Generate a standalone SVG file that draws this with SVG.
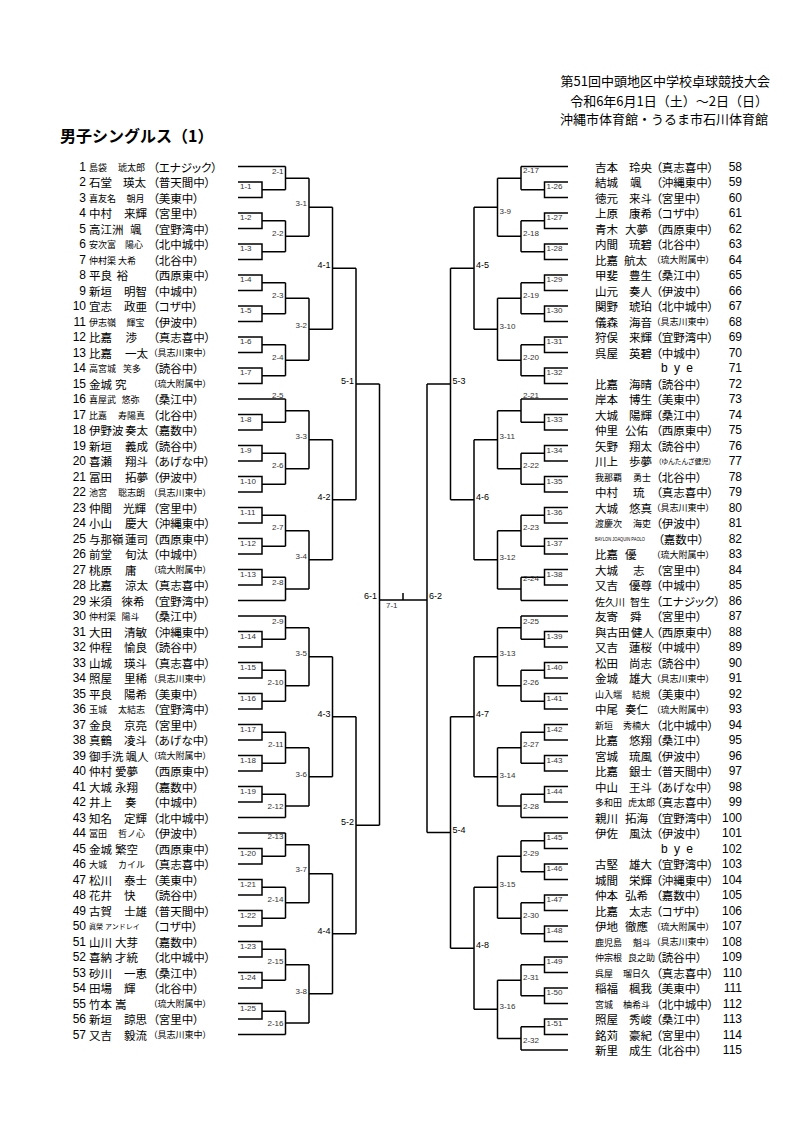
<svg xmlns="http://www.w3.org/2000/svg" width="800" height="1132" viewBox="0 0 800 1132">
<style>
text{dominant-baseline:central}
.ln{fill:none;stroke:#000;stroke-width:1.5}
.no{font-family:"Liberation Sans",sans-serif;font-size:12px;text-anchor:end}
.nm{font-family:"Noto Sans CJK JP",sans-serif;font-size:11.5px}
.ns{font-family:"Noto Sans CJK JP",sans-serif;font-size:9px}
.nt{font-family:"Noto Sans CJK JP",sans-serif;font-size:7px}
.sc{font-family:"Noto Sans CJK JP",sans-serif;font-size:11.5px;font-feature-settings:"palt"}
.ss{font-family:"Noto Sans CJK JP",sans-serif;font-size:9px;font-feature-settings:"palt"}
.st{font-family:"Noto Sans CJK JP",sans-serif;font-size:7px;font-feature-settings:"palt"}
.lb{font-family:"Liberation Sans",sans-serif;font-size:8px;fill:#333}
.lk{font-family:"Liberation Sans",sans-serif;font-size:9px;fill:#000}
.e{text-anchor:end}
.hd{font-family:"Noto Sans CJK JP",sans-serif;font-size:13px;text-anchor:end}
.tt{font-family:"Noto Sans CJK JP",sans-serif;font-size:16px;font-weight:bold}
.bye{font-family:"Liberation Sans",sans-serif;font-size:12px;letter-spacing:1.5px}
</style>
<rect width="800" height="1132" fill="#fff"/>
<g id="header">
<text class="hd" x="770" y="80">第51回中頭地区中学校卓球競技大会</text>
<text class="hd" x="768" y="100">令和6年6月1日（土）～2日（日）</text>
<text class="hd" x="768" y="118">沖縄市体育館・うるま市石川体育館</text>
<text class="tt" x="60" y="135">男子シングルス（1）</text>
</g>
<g id="connectors" class="ln">
<path d="M238,166.5H285.5M238,399H285.5M238,600.5H285.5M238,616H285.5M238,817.5H285.5M238,833H285.5M238,1034.5H285.5"/>
<path d="M238,182H262V197.5H238M262,189.75H285.5M238,213H262V228.5H238M262,220.75H285.5M238,244H262V259.5H238M262,251.75H285.5M238,275H262V290.5H238M262,282.75H285.5M238,306H262V321.5H238M262,313.75H285.5M238,337H262V352.5H238M262,344.75H285.5M238,368H262V383.5H238M262,375.75H285.5M238,414.5H262V430H238M262,422.25H285.5M238,445.5H262V461H238M262,453.25H285.5M238,476.5H262V492H238M262,484.25H285.5M238,507.5H262V523H238M262,515.25H285.5M238,538.5H262V554H238M262,546.25H285.5M238,569.5H262V585H238M262,577.25H285.5M238,631.5H262V647H238M262,639.25H285.5M238,662.5H262V678H238M262,670.25H285.5M238,693.5H262V709H238M262,701.25H285.5M238,724.5H262V740H238M262,732.25H285.5M238,755.5H262V771H238M262,763.25H285.5M238,786.5H262V802H238M262,794.25H285.5M238,848.5H262V864H238M262,856.25H285.5M238,879.5H262V895H238M262,887.25H285.5M238,910.5H262V926H238M262,918.25H285.5M238,941.5H262V957H238M262,949.25H285.5M238,972.5H262V988H238M262,980.25H285.5M238,1003.5H262V1019H238M262,1011.25H285.5"/>
<path d="M285.5,166.5V189.75M285.5,178.125H309M285.5,220.75V251.75M285.5,236.25H309M285.5,282.75V313.75M285.5,298.25H309M285.5,344.75V375.75M285.5,360.25H309M285.5,399V422.25M285.5,410.625H309M285.5,453.25V484.25M285.5,468.75H309M285.5,515.25V546.25M285.5,530.75H309M285.5,577.25V600.5M285.5,588.875H309M285.5,616V639.25M285.5,627.625H309M285.5,670.25V701.25M285.5,685.75H309M285.5,732.25V763.25M285.5,747.75H309M285.5,794.25V817.5M285.5,805.875H309M285.5,833V856.25M285.5,844.625H309M285.5,887.25V918.25M285.5,902.75H309M285.5,949.25V980.25M285.5,964.75H309M285.5,1011.25V1034.5M285.5,1022.875H309"/>
<path d="M309,178.125V236.25M309,207.19H332.5M309,298.25V360.25M309,329.25H332.5M309,410.625V468.75M309,439.69H332.5M309,530.75V588.875M309,559.81H332.5M309,627.625V685.75M309,656.69H332.5M309,747.75V805.875M309,776.81H332.5M309,844.625V902.75M309,873.69H332.5M309,964.75V1022.875M309,993.81H332.5"/>
<path d="M332.5,207.19V329.25M332.5,268.22H356M332.5,439.69V559.81M332.5,499.75H356M332.5,656.69V776.81M332.5,716.75H356M332.5,873.69V993.81M332.5,933.75H356"/>
<path d="M356,268.22V499.75M356,383.98H379.5M356,716.75V933.75M356,825.25H379.5"/>
<path d="M379.5,383.98V825.25M379.5,600H427M403,593V600M427,383.98V832.52"/>
<path d="M568,166.5H521M568,399H521M568,600.5H521M568,616H521M568,817.5H521M568,1050H521"/>
<path d="M568,182H544.5V197.5H568M544.5,189.75H521M568,213H544.5V228.5H568M544.5,220.75H521M568,244H544.5V259.5H568M544.5,251.75H521M568,275H544.5V290.5H568M544.5,282.75H521M568,306H544.5V321.5H568M544.5,313.75H521M568,337H544.5V352.5H568M544.5,344.75H521M568,368H544.5V383.5H568M544.5,375.75H521M568,414.5H544.5V430H568M544.5,422.25H521M568,445.5H544.5V461H568M544.5,453.25H521M568,476.5H544.5V492H568M544.5,484.25H521M568,507.5H544.5V523H568M544.5,515.25H521M568,538.5H544.5V554H568M544.5,546.25H521M568,569.5H544.5V585H568M544.5,577.25H521M568,631.5H544.5V647H568M544.5,639.25H521M568,662.5H544.5V678H568M544.5,670.25H521M568,693.5H544.5V709H568M544.5,701.25H521M568,724.5H544.5V740H568M544.5,732.25H521M568,755.5H544.5V771H568M544.5,763.25H521M568,786.5H544.5V802H568M544.5,794.25H521M568,833H544.5V848.5H568M544.5,840.75H521M568,864H544.5V879.5H568M544.5,871.75H521M568,895H544.5V910.5H568M544.5,902.75H521M568,926H544.5V941.5H568M544.5,933.75H521M568,957H544.5V972.5H568M544.5,964.75H521M568,988H544.5V1003.5H568M544.5,995.75H521M568,1019H544.5V1034.5H568M544.5,1026.75H521"/>
<path d="M521,166.5V189.75M521,178.125H497.5M521,220.75V251.75M521,236.25H497.5M521,282.75V313.75M521,298.25H497.5M521,344.75V375.75M521,360.25H497.5M521,399V422.25M521,410.625H497.5M521,453.25V484.25M521,468.75H497.5M521,515.25V546.25M521,530.75H497.5M521,577.25V600.5M521,588.875H497.5M521,616V639.25M521,627.625H497.5M521,670.25V701.25M521,685.75H497.5M521,732.25V763.25M521,747.75H497.5M521,794.25V817.5M521,805.875H497.5M521,840.75V871.75M521,856.25H497.5M521,902.75V933.75M521,918.25H497.5M521,964.75V995.75M521,980.25H497.5M521,1026.75V1050M521,1038.375H497.5"/>
<path d="M497.5,178.125V236.25M497.5,207.19H474M497.5,298.25V360.25M497.5,329.25H474M497.5,410.625V468.75M497.5,439.69H474M497.5,530.75V588.875M497.5,559.81H474M497.5,627.625V685.75M497.5,656.69H474M497.5,747.75V805.875M497.5,776.81H474M497.5,856.25V918.25M497.5,887.25H474M497.5,980.25V1038.375M497.5,1009.31H474"/>
<path d="M474,207.19V329.25M474,268.22H450.5M474,439.69V559.81M474,499.75H450.5M474,656.69V776.81M474,716.75H450.5M474,887.25V1009.31M474,948.28H450.5"/>
<path d="M450.5,268.22V499.75M450.5,383.98H427M450.5,716.75V948.28M450.5,832.52H427"/>
</g>
<g id="labels">
<g class="lb">
<text x="240" y="186.5">1-1</text><text x="240" y="217.5">1-2</text><text x="240" y="248.5">1-3</text><text x="240" y="279.5">1-4</text><text x="240" y="310.5">1-5</text><text x="240" y="341.5">1-6</text><text x="240" y="372.5">1-7</text><text x="240" y="419">1-8</text><text x="240" y="450">1-9</text><text x="240" y="481">1-10</text><text x="240" y="512">1-11</text><text x="240" y="543">1-12</text><text x="240" y="574">1-13</text><text x="240" y="636">1-14</text><text x="240" y="667">1-15</text><text x="240" y="698">1-16</text><text x="240" y="729">1-17</text><text x="240" y="760">1-18</text><text x="240" y="791">1-19</text><text x="240" y="853">1-20</text><text x="240" y="884">1-21</text><text x="240" y="915">1-22</text><text x="240" y="946">1-23</text><text x="240" y="977">1-24</text><text x="240" y="1008">1-25</text>
<text class="e" x="283.5" y="171">2-1</text><text class="e" x="283.5" y="233.25">2-2</text><text class="e" x="283.5" y="295.25">2-3</text><text class="e" x="283.5" y="357.25">2-4</text><text class="e" x="283.5" y="395">2-5</text><text class="e" x="283.5" y="465.75">2-6</text><text class="e" x="283.5" y="527.75">2-7</text><text class="e" x="283.5" y="582">2-8</text><text class="e" x="283.5" y="621">2-9</text><text class="e" x="283.5" y="682.75">2-10</text><text class="e" x="283.5" y="744.75">2-11</text><text class="e" x="283.5" y="806.5">2-12</text><text class="e" x="283.5" y="836.5">2-13</text><text class="e" x="283.5" y="899.75">2-14</text><text class="e" x="283.5" y="961.75">2-15</text><text class="e" x="283.5" y="1023">2-16</text>
<text class="e" x="307" y="203.7">3-1</text><text class="e" x="307" y="325.75">3-2</text><text class="e" x="307" y="436.2">3-3</text><text class="e" x="307" y="556.8">3-4</text><text class="e" x="307" y="653.2">3-5</text><text class="e" x="307" y="774.5">3-6</text><text class="e" x="307" y="869.5">3-7</text><text class="e" x="307" y="991.5">3-8</text>
<text x="386" y="605">7-1</text>
<text x="546.5" y="186.5">1-26</text><text x="546.5" y="217.5">1-27</text><text x="546.5" y="248.5">1-28</text><text x="546.5" y="279.5">1-29</text><text x="546.5" y="310.5">1-30</text><text x="546.5" y="341.5">1-31</text><text x="546.5" y="372.5">1-32</text><text x="546.5" y="419">1-33</text><text x="546.5" y="450">1-34</text><text x="546.5" y="481">1-35</text><text x="546.5" y="512">1-36</text><text x="546.5" y="543">1-37</text><text x="546.5" y="574">1-38</text><text x="546.5" y="636">1-39</text><text x="546.5" y="667">1-40</text><text x="546.5" y="698">1-41</text><text x="546.5" y="729">1-42</text><text x="546.5" y="760">1-43</text><text x="546.5" y="791">1-44</text><text x="546.5" y="837.5">1-45</text><text x="546.5" y="868.5">1-46</text><text x="546.5" y="899.5">1-47</text><text x="546.5" y="930.5">1-48</text><text x="546.5" y="961.5">1-49</text><text x="546.5" y="992.5">1-50</text><text x="546.5" y="1023.5">1-51</text>
<text x="523" y="170">2-17</text><text x="523" y="233.25">2-18</text><text x="523" y="295.25">2-19</text><text x="523" y="357.25">2-20</text><text x="523" y="395">2-21</text><text x="523" y="465.75">2-22</text><text x="523" y="527.75">2-23</text><text x="523" y="578.5">2-24</text><text x="523" y="621">2-25</text><text x="523" y="682.75">2-26</text><text x="523" y="744.75">2-27</text><text x="523" y="806.5">2-28</text><text x="523" y="853.25">2-29</text><text x="523" y="915.25">2-30</text><text x="523" y="977.25">2-31</text><text x="523" y="1040">2-32</text>
<text x="499.5" y="211">3-9</text><text x="499.5" y="326.25">3-10</text><text x="499.5" y="436.7">3-11</text><text x="499.5" y="557">3-12</text><text x="499.5" y="653.7">3-13</text><text x="499.5" y="775">3-14</text><text x="499.5" y="884.5">3-15</text><text x="499.5" y="1006.5">3-16</text>
</g>
<g class="lk">
<text class="e" x="330.5" y="265">4-1</text><text class="e" x="330.5" y="497">4-2</text><text class="e" x="330.5" y="714">4-3</text><text class="e" x="330.5" y="931">4-4</text>
<text class="e" x="354" y="381">5-1</text><text class="e" x="354" y="822">5-2</text>
<text class="e" x="377" y="596">6-1</text><text x="429" y="596">6-2</text>
<text x="476" y="265">4-5</text><text x="476" y="497">4-6</text><text x="476" y="714">4-7</text><text x="476" y="945">4-8</text>
<text x="452.5" y="381">5-3</text><text x="452.5" y="830">5-4</text>
</g>
</g>
<g id="players-left">
<g id="p1"><text class="no" x="86" y="166.5">1</text><text class="ns" y="166.5"><tspan x="89">島袋</tspan> <tspan x="118">琥太郎</tspan></text><text class="sc" x="153" y="166.5">（エナジック）</text></g>
<g id="p2"><text class="no" x="86" y="182">2</text><text class="nm" y="182"><tspan x="89">石堂</tspan> <tspan x="123">瑛太</tspan></text><text class="sc" x="153" y="182">（普天間中）</text></g>
<g id="p3"><text class="no" x="86" y="197.5">3</text><text class="ns" y="197.5"><tspan x="89">喜友名</tspan> <tspan x="126.5">朝月</tspan></text><text class="sc" x="153" y="197.5">（美東中）</text></g>
<g id="p4"><text class="no" x="86" y="213">4</text><text class="nm" y="213"><tspan x="89">中村</tspan> <tspan x="124">来輝</tspan></text><text class="sc" x="153" y="213">（宮里中）</text></g>
<g id="p5"><text class="no" x="86" y="228.5">5</text><text class="nm" y="228.5"><tspan x="89">高江洲</tspan> <tspan x="130">颯</tspan></text><text class="sc" x="153" y="228.5">（宜野湾中）</text></g>
<g id="p6"><text class="no" x="86" y="244">6</text><text class="ns" y="244"><tspan x="89">安次富</tspan> <tspan x="125">陽心</tspan></text><text class="sc" x="153" y="244">（北中城中）</text></g>
<g id="p7"><text class="no" x="86" y="259.5">7</text><text class="ns" y="259.5"><tspan x="89">仲村渠</tspan> <tspan x="118">大希</tspan></text><text class="sc" x="153" y="259.5">（北谷中）</text></g>
<g id="p8"><text class="no" x="86" y="275">8</text><text class="nm" y="275"><tspan x="89">平良</tspan> <tspan x="116.5">裕</tspan></text><text class="sc" x="153" y="275">（西原東中）</text></g>
<g id="p9"><text class="no" x="86" y="290.5">9</text><text class="nm" y="290.5"><tspan x="89">新垣</tspan> <tspan x="124">明智</tspan></text><text class="sc" x="153" y="290.5">（中城中）</text></g>
<g id="p10"><text class="no" x="86" y="306">10</text><text class="nm" y="306"><tspan x="89">宜志</tspan> <tspan x="124">政亜</tspan></text><text class="sc" x="153" y="306">（コザ中）</text></g>
<g id="p11"><text class="no" x="86" y="321.5">11</text><text class="ns" y="321.5"><tspan x="89">伊志嶺</tspan> <tspan x="126.5">輝宝</tspan></text><text class="sc" x="153" y="321.5">（伊波中）</text></g>
<g id="p12"><text class="no" x="86" y="337">12</text><text class="nm" y="337"><tspan x="89">比嘉</tspan> <tspan x="125.5">渉</tspan></text><text class="sc" x="153" y="337">（真志喜中）</text></g>
<g id="p13"><text class="no" x="86" y="352.5">13</text><text class="nm" y="352.5"><tspan x="89">比嘉</tspan> <tspan x="125">一太</tspan></text><text class="ss" x="153" y="352.5">（具志川東中）</text></g>
<g id="p14"><text class="no" x="86" y="368">14</text><text class="ns" y="368"><tspan x="89">高宮城</tspan> <tspan x="123">笑多</tspan></text><text class="sc" x="153" y="368">（読谷中）</text></g>
<g id="p15"><text class="no" x="86" y="383.5">15</text><text class="nm" y="383.5"><tspan x="89">金城</tspan> <tspan x="115">究</tspan></text><text class="ss" x="153" y="383.5">（琉大附属中）</text></g>
<g id="p16"><text class="no" x="86" y="399">16</text><text class="ns" y="399"><tspan x="89">喜屋武</tspan> <tspan x="121.5">悠弥</tspan></text><text class="sc" x="153" y="399">（桑江中）</text></g>
<g id="p17"><text class="no" x="86" y="414.5">17</text><text class="ns" y="414.5"><tspan x="89">比嘉</tspan> <tspan x="118">寿陽真</tspan></text><text class="sc" x="153" y="414.5">（北谷中）</text></g>
<g id="p18"><text class="no" x="86" y="430">18</text><text class="nm" y="430"><tspan x="89">伊野波</tspan> <tspan x="125">奏太</tspan></text><text class="sc" x="153" y="430">（嘉数中）</text></g>
<g id="p19"><text class="no" x="86" y="445.5">19</text><text class="nm" y="445.5"><tspan x="89">新垣</tspan> <tspan x="125">義成</tspan></text><text class="sc" x="153" y="445.5">（読谷中）</text></g>
<g id="p20"><text class="no" x="86" y="461">20</text><text class="nm" y="461"><tspan x="89">喜瀬</tspan> <tspan x="125">翔斗</tspan></text><text class="sc" x="153" y="461">（あげな中）</text></g>
<g id="p21"><text class="no" x="86" y="476.5">21</text><text class="nm" y="476.5"><tspan x="89">冨田</tspan> <tspan x="125">拓夢</tspan></text><text class="sc" x="153" y="476.5">（伊波中）</text></g>
<g id="p22"><text class="no" x="86" y="492">22</text><text class="ns" y="492"><tspan x="89">池宮</tspan> <tspan x="118">聡志朗</tspan></text><text class="ss" x="153" y="492">（具志川東中）</text></g>
<g id="p23"><text class="no" x="86" y="507.5">23</text><text class="nm" y="507.5"><tspan x="89">仲間</tspan> <tspan x="123">光輝</tspan></text><text class="sc" x="153" y="507.5">（宮里中）</text></g>
<g id="p24"><text class="no" x="86" y="523">24</text><text class="nm" y="523"><tspan x="89">小山</tspan> <tspan x="125">慶大</tspan></text><text class="sc" x="153" y="523">（沖縄東中）</text></g>
<g id="p25"><text class="no" x="86" y="538.5">25</text><text class="nm" y="538.5"><tspan x="89">与那嶺</tspan> <tspan x="125">蓮司</tspan></text><text class="sc" x="153" y="538.5">（西原東中）</text></g>
<g id="p26"><text class="no" x="86" y="554">26</text><text class="nm" y="554"><tspan x="89">前堂</tspan> <tspan x="125">旬汰</tspan></text><text class="sc" x="153" y="554">（中城中）</text></g>
<g id="p27"><text class="no" x="86" y="569.5">27</text><text class="nm" y="569.5"><tspan x="89">桃原</tspan> <tspan x="125">庸</tspan></text><text class="ss" x="153" y="569.5">（琉大附属中）</text></g>
<g id="p28"><text class="no" x="86" y="585">28</text><text class="nm" y="585"><tspan x="89">比嘉</tspan> <tspan x="125">涼太</tspan></text><text class="sc" x="153" y="585">（真志喜中）</text></g>
<g id="p29"><text class="no" x="86" y="600.5">29</text><text class="nm" y="600.5"><tspan x="89">米須</tspan> <tspan x="121.5">徠希</tspan></text><text class="sc" x="153" y="600.5">（宜野湾中）</text></g>
<g id="p30"><text class="no" x="86" y="616">30</text><text class="ns" y="616"><tspan x="89">仲村渠</tspan> <tspan x="121.5">陽斗</tspan></text><text class="sc" x="153" y="616">（桑江中）</text></g>
<g id="p31"><text class="no" x="86" y="631.5">31</text><text class="nm" y="631.5"><tspan x="89">大田</tspan> <tspan x="124">清敏</tspan></text><text class="sc" x="153" y="631.5">（沖縄東中）</text></g>
<g id="p32"><text class="no" x="86" y="647">32</text><text class="nm" y="647"><tspan x="89">仲程</tspan> <tspan x="124">愉良</tspan></text><text class="sc" x="153" y="647">（読谷中）</text></g>
<g id="p33"><text class="no" x="86" y="662.5">33</text><text class="nm" y="662.5"><tspan x="89">山城</tspan> <tspan x="124">瑛斗</tspan></text><text class="sc" x="153" y="662.5">（真志喜中）</text></g>
<g id="p34"><text class="no" x="86" y="678">34</text><text class="nm" y="678"><tspan x="89">照屋</tspan> <tspan x="124">里稀</tspan></text><text class="ss" x="153" y="678">（具志川東中）</text></g>
<g id="p35"><text class="no" x="86" y="693.5">35</text><text class="nm" y="693.5"><tspan x="89">平良</tspan> <tspan x="124">陽希</tspan></text><text class="sc" x="153" y="693.5">（美東中）</text></g>
<g id="p36"><text class="no" x="86" y="709">36</text><text class="ns" y="709"><tspan x="89">玉城</tspan> <tspan x="118">太結志</tspan></text><text class="sc" x="153" y="709">（宜野湾中）</text></g>
<g id="p37"><text class="no" x="86" y="724.5">37</text><text class="nm" y="724.5"><tspan x="89">金良</tspan> <tspan x="124">京亮</tspan></text><text class="sc" x="153" y="724.5">（宮里中）</text></g>
<g id="p38"><text class="no" x="86" y="740">38</text><text class="nm" y="740"><tspan x="89">真鶴</tspan> <tspan x="124">凌斗</tspan></text><text class="sc" x="153" y="740">（あげな中）</text></g>
<g id="p39"><text class="no" x="86" y="755.5">39</text><text class="nm" y="755.5"><tspan x="89">御手洗</tspan> <tspan x="125.5">颯人</tspan></text><text class="ss" x="153" y="755.5">（琉大附属中）</text></g>
<g id="p40"><text class="no" x="86" y="771">40</text><text class="nm" y="771"><tspan x="89">仲村</tspan> <tspan x="115">愛夢</tspan></text><text class="sc" x="153" y="771">（西原東中）</text></g>
<g id="p41"><text class="no" x="86" y="786.5">41</text><text class="nm" y="786.5"><tspan x="89">大城</tspan> <tspan x="115">永翔</tspan></text><text class="sc" x="153" y="786.5">（嘉数中）</text></g>
<g id="p42"><text class="no" x="86" y="802">42</text><text class="nm" y="802"><tspan x="89">井上</tspan> <tspan x="125">奏</tspan></text><text class="sc" x="153" y="802">（中城中）</text></g>
<g id="p43"><text class="no" x="86" y="817.5">43</text><text class="nm" y="817.5"><tspan x="89">知名</tspan> <tspan x="124">定輝</tspan></text><text class="sc" x="153" y="817.5">（北中城中）</text></g>
<g id="p44"><text class="no" x="86" y="833">44</text><text class="ns" y="833"><tspan x="89">冨田</tspan> <tspan x="118">哲ノ心</tspan></text><text class="sc" x="153" y="833">（伊波中）</text></g>
<g id="p45"><text class="no" x="86" y="848.5">45</text><text class="nm" y="848.5"><tspan x="89">金城</tspan> <tspan x="115">繁空</tspan></text><text class="sc" x="153" y="848.5">（西原東中）</text></g>
<g id="p46"><text class="no" x="86" y="864">46</text><text class="ns" y="864"><tspan x="89">大城</tspan> <tspan x="118">カイル</tspan></text><text class="sc" x="153" y="864">（真志喜中）</text></g>
<g id="p47"><text class="no" x="86" y="879.5">47</text><text class="nm" y="879.5"><tspan x="89">松川</tspan> <tspan x="124">泰士</tspan></text><text class="sc" x="153" y="879.5">（美東中）</text></g>
<g id="p48"><text class="no" x="86" y="895">48</text><text class="nm" y="895"><tspan x="89">花井</tspan> <tspan x="124">快</tspan></text><text class="sc" x="153" y="895">（読谷中）</text></g>
<g id="p49"><text class="no" x="86" y="910.5">49</text><text class="nm" y="910.5"><tspan x="89">古賀</tspan> <tspan x="124">士雄</tspan></text><text class="sc" x="153" y="910.5">（普天間中）</text></g>
<g id="p50"><text class="no" x="86" y="926">50</text><text class="nt" y="926"><tspan x="89">眞榮</tspan> <tspan x="105">アンドレイ</tspan></text><text class="sc" x="153" y="926">（コザ中）</text></g>
<g id="p51"><text class="no" x="86" y="941.5">51</text><text class="nm" y="941.5"><tspan x="89">山川</tspan> <tspan x="115">大芽</tspan></text><text class="sc" x="153" y="941.5">（嘉数中）</text></g>
<g id="p52"><text class="no" x="86" y="957">52</text><text class="nm" y="957"><tspan x="89">喜納</tspan> <tspan x="115">才統</tspan></text><text class="sc" x="153" y="957">（北中城中）</text></g>
<g id="p53"><text class="no" x="86" y="972.5">53</text><text class="nm" y="972.5"><tspan x="89">砂川</tspan> <tspan x="124">一恵</tspan></text><text class="sc" x="153" y="972.5">（桑江中）</text></g>
<g id="p54"><text class="no" x="86" y="988">54</text><text class="nm" y="988"><tspan x="89">田場</tspan> <tspan x="124">輝</tspan></text><text class="sc" x="153" y="988">（北谷中）</text></g>
<g id="p55"><text class="no" x="86" y="1003.5">55</text><text class="nm" y="1003.5"><tspan x="89">竹本</tspan> <tspan x="115">嵩</tspan></text><text class="ss" x="153" y="1003.5">（琉大附属中）</text></g>
<g id="p56"><text class="no" x="86" y="1019">56</text><text class="nm" y="1019"><tspan x="89">新垣</tspan> <tspan x="124">諒思</tspan></text><text class="sc" x="153" y="1019">（宮里中）</text></g>
<g id="p57"><text class="no" x="86" y="1034.5">57</text><text class="nm" y="1034.5"><tspan x="89">又吉</tspan> <tspan x="124">毅流</tspan></text><text class="ss" x="153" y="1034.5">（具志川東中）</text></g>
</g>
<g id="players-right">
<g id="p58"><text class="nm" y="166.5"><tspan x="595">吉本</tspan> <tspan x="629">玲央</tspan></text><text class="sc" x="656" y="166.5">（真志喜中）</text><text class="no" x="742" y="166.5">58</text></g>
<g id="p59"><text class="nm" y="182"><tspan x="595">結城</tspan> <tspan x="630">颯</tspan></text><text class="sc" x="656" y="182">（沖縄東中）</text><text class="no" x="742" y="182">59</text></g>
<g id="p60"><text class="nm" y="197.5"><tspan x="595">徳元</tspan> <tspan x="629">来斗</tspan></text><text class="sc" x="656" y="197.5">（宮里中）</text><text class="no" x="742" y="197.5">60</text></g>
<g id="p61"><text class="nm" y="213"><tspan x="595">上原</tspan> <tspan x="629">康希</tspan></text><text class="sc" x="656" y="213">（コザ中）</text><text class="no" x="742" y="213">61</text></g>
<g id="p62"><text class="nm" y="228.5"><tspan x="595">青木</tspan> <tspan x="625">大夢</tspan></text><text class="sc" x="656" y="228.5">（西原東中）</text><text class="no" x="742" y="228.5">62</text></g>
<g id="p63"><text class="nm" y="244"><tspan x="595">内間</tspan> <tspan x="629">琉碧</tspan></text><text class="sc" x="656" y="244">（北谷中）</text><text class="no" x="742" y="244">63</text></g>
<g id="p64"><text class="nm" y="259.5"><tspan x="595">比嘉</tspan> <tspan x="624">航太</tspan></text><text class="ss" x="656" y="259.5">（琉大附属中）</text><text class="no" x="742" y="259.5">64</text></g>
<g id="p65"><text class="nm" y="275"><tspan x="595">甲斐</tspan> <tspan x="629">豊生</tspan></text><text class="sc" x="656" y="275">（桑江中）</text><text class="no" x="742" y="275">65</text></g>
<g id="p66"><text class="nm" y="290.5"><tspan x="595">山元</tspan> <tspan x="629">奏人</tspan></text><text class="sc" x="656" y="290.5">（伊波中）</text><text class="no" x="742" y="290.5">66</text></g>
<g id="p67"><text class="nm" y="306"><tspan x="595">関野</tspan> <tspan x="629">琥珀</tspan></text><text class="sc" x="656" y="306">（北中城中）</text><text class="no" x="742" y="306">67</text></g>
<g id="p68"><text class="nm" y="321.5"><tspan x="595">儀森</tspan> <tspan x="629">海音</tspan></text><text class="ss" x="656" y="321.5">（具志川東中）</text><text class="no" x="742" y="321.5">68</text></g>
<g id="p69"><text class="nm" y="337"><tspan x="595">狩俣</tspan> <tspan x="629">来輝</tspan></text><text class="sc" x="656" y="337">（宜野湾中）</text><text class="no" x="742" y="337">69</text></g>
<g id="p70"><text class="nm" y="352.5"><tspan x="595">呉屋</tspan> <tspan x="629">英碧</tspan></text><text class="sc" x="656" y="352.5">（中城中）</text><text class="no" x="742" y="352.5">70</text></g>
<g id="p71"><text class="bye" x="661" y="368">b y e</text><text class="no" x="742" y="368">71</text></g>
<g id="p72"><text class="nm" y="383.5"><tspan x="595">比嘉</tspan> <tspan x="629">海晴</tspan></text><text class="sc" x="656" y="383.5">（読谷中）</text><text class="no" x="742" y="383.5">72</text></g>
<g id="p73"><text class="nm" y="399"><tspan x="595">岸本</tspan> <tspan x="629">博生</tspan></text><text class="sc" x="656" y="399">（美東中）</text><text class="no" x="742" y="399">73</text></g>
<g id="p74"><text class="nm" y="414.5"><tspan x="595">大城</tspan> <tspan x="629">陽輝</tspan></text><text class="sc" x="656" y="414.5">（桑江中）</text><text class="no" x="742" y="414.5">74</text></g>
<g id="p75"><text class="nm" y="430"><tspan x="595">仲里</tspan> <tspan x="625">公佑</tspan></text><text class="sc" x="656" y="430">（西原東中）</text><text class="no" x="742" y="430">75</text></g>
<g id="p76"><text class="nm" y="445.5"><tspan x="595">矢野</tspan> <tspan x="629">翔太</tspan></text><text class="sc" x="656" y="445.5">（読谷中）</text><text class="no" x="742" y="445.5">76</text></g>
<g id="p77"><text class="nm" y="461"><tspan x="595">川上</tspan> <tspan x="629">歩夢</tspan></text><text class="st" x="658" y="461">（ゆんたんざ健児）</text><text class="no" x="742" y="461">77</text></g>
<g id="p78"><text class="ns" y="476.5"><tspan x="595">我那覇</tspan> <tspan x="633">勇士</tspan></text><text class="sc" x="656" y="476.5">（北谷中）</text><text class="no" x="742" y="476.5">78</text></g>
<g id="p79"><text class="nm" y="492"><tspan x="595">中村</tspan> <tspan x="633">琉</tspan></text><text class="sc" x="656" y="492">（真志喜中）</text><text class="no" x="742" y="492">79</text></g>
<g id="p80"><text class="nm" y="507.5"><tspan x="595">大城</tspan> <tspan x="629">悠真</tspan></text><text class="ss" x="656" y="507.5">（具志川東中）</text><text class="no" x="742" y="507.5">80</text></g>
<g id="p81"><text class="ns" y="523"><tspan x="595">渡慶次</tspan> <tspan x="633">海吏</tspan></text><text class="sc" x="656" y="523">（伊波中）</text><text class="no" x="742" y="523">81</text></g>
<g id="p82"><text class="lb" x="595" y="538.5" style="font-size:5.5px;fill:#000" textLength="50" lengthAdjust="spacingAndGlyphs">BAYLON JOAQUIN PAOLO</text><text class="sc" x="658" y="538.5">（嘉数中）</text><text class="no" x="742" y="538.5">82</text></g>
<g id="p83"><text class="nm" y="554"><tspan x="595">比嘉</tspan> <tspan x="625">優</tspan></text><text class="ss" x="656" y="554">（琉大附属中）</text><text class="no" x="742" y="554">83</text></g>
<g id="p84"><text class="nm" y="569.5"><tspan x="595">大城</tspan> <tspan x="633">志</tspan></text><text class="sc" x="656" y="569.5">（宮里中）</text><text class="no" x="742" y="569.5">84</text></g>
<g id="p85"><text class="nm" y="585"><tspan x="595">又吉</tspan> <tspan x="629">優尊</tspan></text><text class="sc" x="656" y="585">（中城中）</text><text class="no" x="742" y="585">85</text></g>
<g id="p86"><text class="ns" y="600.5" style="font-size:10px"><tspan x="595">佐久川</tspan> <tspan x="630">智生</tspan></text><text class="sc" x="656" y="600.5">（エナジック）</text><text class="no" x="742" y="600.5">86</text></g>
<g id="p87"><text class="nm" y="616"><tspan x="595">友寄</tspan> <tspan x="630">舜</tspan></text><text class="sc" x="656" y="616">（宮里中）</text><text class="no" x="742" y="616">87</text></g>
<g id="p88"><text class="nm" y="631.5"><tspan x="595">與古田</tspan> <tspan x="631">健人</tspan></text><text class="sc" x="656" y="631.5">（西原東中）</text><text class="no" x="742" y="631.5">88</text></g>
<g id="p89"><text class="nm" y="647"><tspan x="595">又吉</tspan> <tspan x="629">蓮桜</tspan></text><text class="sc" x="656" y="647">（中城中）</text><text class="no" x="742" y="647">89</text></g>
<g id="p90"><text class="nm" y="662.5"><tspan x="595">松田</tspan> <tspan x="629">尚志</tspan></text><text class="sc" x="656" y="662.5">（読谷中）</text><text class="no" x="742" y="662.5">90</text></g>
<g id="p91"><text class="nm" y="678"><tspan x="595">金城</tspan> <tspan x="629">雄大</tspan></text><text class="ss" x="656" y="678">（具志川東中）</text><text class="no" x="742" y="678">91</text></g>
<g id="p92"><text class="ns" y="693.5"><tspan x="595">山入端</tspan> <tspan x="632">結規</tspan></text><text class="sc" x="656" y="693.5">（美東中）</text><text class="no" x="742" y="693.5">92</text></g>
<g id="p93"><text class="nm" y="709"><tspan x="595">中尾</tspan> <tspan x="625">奏仁</tspan></text><text class="ss" x="656" y="709">（琉大附属中）</text><text class="no" x="742" y="709">93</text></g>
<g id="p94"><text class="ns" y="724.5"><tspan x="595">新垣</tspan> <tspan x="623">秀楠大</tspan></text><text class="sc" x="656" y="724.5">（北中城中）</text><text class="no" x="742" y="724.5">94</text></g>
<g id="p95"><text class="nm" y="740"><tspan x="595">比嘉</tspan> <tspan x="629">悠翔</tspan></text><text class="sc" x="656" y="740">（桑江中）</text><text class="no" x="742" y="740">95</text></g>
<g id="p96"><text class="nm" y="755.5"><tspan x="595">宮城</tspan> <tspan x="629">琉風</tspan></text><text class="sc" x="656" y="755.5">（伊波中）</text><text class="no" x="742" y="755.5">96</text></g>
<g id="p97"><text class="nm" y="771"><tspan x="595">比嘉</tspan> <tspan x="629">銀士</tspan></text><text class="sc" x="656" y="771">（普天間中）</text><text class="no" x="742" y="771">97</text></g>
<g id="p98"><text class="nm" y="786.5"><tspan x="595">中山</tspan> <tspan x="629">王斗</tspan></text><text class="sc" x="656" y="786.5">（あげな中）</text><text class="no" x="742" y="786.5">98</text></g>
<g id="p99"><text class="ns" y="802"><tspan x="595">多和田</tspan> <tspan x="628">虎太郎</tspan></text><text class="sc" x="656" y="802">（真志喜中）</text><text class="no" x="742" y="802">99</text></g>
<g id="p100"><text class="nm" y="817.5"><tspan x="595">親川</tspan> <tspan x="625">拓海</tspan></text><text class="sc" x="656" y="817.5">（宜野湾中）</text><text class="no" x="742" y="817.5">100</text></g>
<g id="p101"><text class="nm" y="833"><tspan x="595">伊佐</tspan> <tspan x="629">風汰</tspan></text><text class="sc" x="656" y="833">（伊波中）</text><text class="no" x="742" y="833">101</text></g>
<g id="p102"><text class="bye" x="661" y="848.5">b y e</text><text class="no" x="742" y="848.5">102</text></g>
<g id="p103"><text class="nm" y="864"><tspan x="595">古堅</tspan> <tspan x="629">雄大</tspan></text><text class="sc" x="656" y="864">（宜野湾中）</text><text class="no" x="742" y="864">103</text></g>
<g id="p104"><text class="nm" y="879.5"><tspan x="595">城間</tspan> <tspan x="629">栄輝</tspan></text><text class="sc" x="656" y="879.5">（沖縄東中）</text><text class="no" x="742" y="879.5">104</text></g>
<g id="p105"><text class="nm" y="895"><tspan x="595">仲本</tspan> <tspan x="625">弘希</tspan></text><text class="sc" x="656" y="895">（嘉数中）</text><text class="no" x="742" y="895">105</text></g>
<g id="p106"><text class="nm" y="910.5"><tspan x="595">比嘉</tspan> <tspan x="629">太志</tspan></text><text class="sc" x="656" y="910.5">（コザ中）</text><text class="no" x="742" y="910.5">106</text></g>
<g id="p107"><text class="nm" y="926"><tspan x="595">伊地</tspan> <tspan x="625">徹應</tspan></text><text class="ss" x="656" y="926">（琉大附属中）</text><text class="no" x="742" y="926">107</text></g>
<g id="p108"><text class="ns" y="941.5"><tspan x="595">鹿児島</tspan> <tspan x="633">魁斗</tspan></text><text class="ss" x="656" y="941.5">（具志川東中）</text><text class="no" x="742" y="941.5">108</text></g>
<g id="p109"><text class="ns" y="957"><tspan x="595">仲宗根</tspan> <tspan x="628">良之助</tspan></text><text class="sc" x="656" y="957">（読谷中）</text><text class="no" x="742" y="957">109</text></g>
<g id="p110"><text class="ns" y="972.5"><tspan x="595">呉屋</tspan> <tspan x="623">瑠日久</tspan></text><text class="sc" x="656" y="972.5">（真志喜中）</text><text class="no" x="742" y="972.5">110</text></g>
<g id="p111"><text class="nm" y="988"><tspan x="595">稲福</tspan> <tspan x="629">楓我</tspan></text><text class="sc" x="656" y="988">（美東中）</text><text class="no" x="742" y="988">111</text></g>
<g id="p112"><text class="ns" y="1003.5"><tspan x="595">宮城</tspan> <tspan x="623">柚希斗</tspan></text><text class="sc" x="656" y="1003.5">（北中城中）</text><text class="no" x="742" y="1003.5">112</text></g>
<g id="p113"><text class="nm" y="1019"><tspan x="595">照屋</tspan> <tspan x="629">秀峻</tspan></text><text class="sc" x="656" y="1019">（桑江中）</text><text class="no" x="742" y="1019">113</text></g>
<g id="p114"><text class="nm" y="1034.5"><tspan x="595">銘苅</tspan> <tspan x="629">豪紀</tspan></text><text class="sc" x="656" y="1034.5">（宮里中）</text><text class="no" x="742" y="1034.5">114</text></g>
<g id="p115"><text class="nm" y="1050"><tspan x="595">新里</tspan> <tspan x="629">成生</tspan></text><text class="sc" x="656" y="1050">（北谷中）</text><text class="no" x="742" y="1050">115</text></g>
</g>
</svg>
